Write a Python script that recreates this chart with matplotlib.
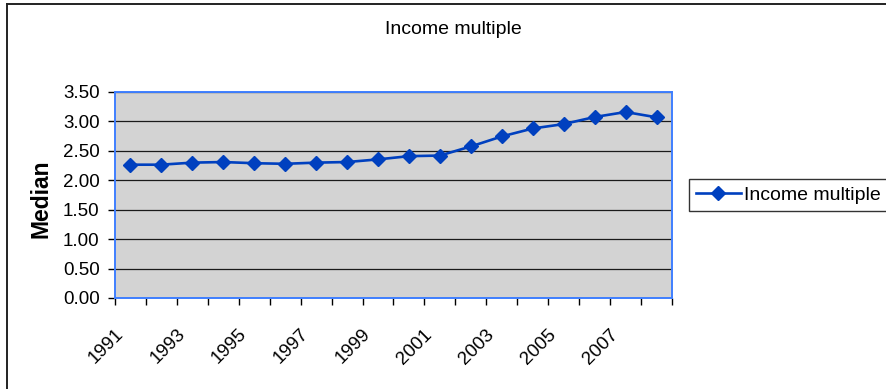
import matplotlib.pyplot as plt
from matplotlib.lines import Line2D
from matplotlib.ticker import FixedLocator
import matplotlib.transforms as mtransforms

plt.rcParams["font.family"] = ["Liberation Sans", "DejaVu Sans"]

years = list(range(1991, 2009))
income_multiple = [2.265, 2.265, 2.30, 2.31, 2.29, 2.28, 2.30, 2.31, 2.355,
                   2.41, 2.42, 2.575, 2.745, 2.88, 2.955, 3.075, 3.16, 3.07]
y_ticks = [0.0, 0.5, 1.0, 1.5, 2.0, 2.5, 3.0, 3.5]

line_color = "#0040BF"
frame_blue = "#3F7FFF"
fs = 13.5

fig = plt.figure(figsize=(8.87, 3.89), dpi=100)
ax = fig.add_axes([115 / 887, 91 / 389, 557 / 887, 206 / 389])
ax.set_facecolor("#D3D3D3")

x = list(range(len(years)))
ax.plot(x, income_multiple, color=line_color, linewidth=1.9,
        marker="D", markersize=7.5, markerfacecolor=line_color,
        markeredgecolor=line_color, label="Income multiple", zorder=3)

ax.set_xlim(-0.5, len(years) - 0.5)
ax.set_ylim(0, 3.5)

# y axis: gridlines every 0.5
ax.set_yticks(y_ticks)
ax.set_yticklabels([f"{v:.2f}" for v in y_ticks], fontsize=fs)
ax.yaxis.grid(True, color="#1a1a1a", linewidth=0.9)
ax.set_axisbelow(True)

# x axis: ticks between categories, labels on every other year
ax.xaxis.set_major_locator(FixedLocator([i - 0.5 for i in range(len(years) + 1)]))
ax.set_xticklabels([])
ax.set_xticks(x[::2], minor=True)
ax.set_xticklabels([str(y) for y in years[::2]], minor=True,
                   rotation=45, ha="right", va="top", fontsize=fs)
ax.tick_params(axis="x", which="minor", length=0, pad=20)
ax.tick_params(axis="both", which="major", direction="out", length=5,
               width=1, color="black", pad=6)
shift = mtransforms.ScaledTranslation(-4 / 100, 0, fig.dpi_scale_trans)
for lab in ax.xaxis.get_minorticklabels():
    lab.set_transform(lab.get_transform() + shift)

for side in ["left", "right", "top", "bottom"]:
    ax.spines[side].set_color(frame_blue)
    ax.spines[side].set_linewidth(1.4)

fig.text(453 / 887, 1 - 30 / 389, "Income multiple", ha="center", va="center",
         fontsize=14)
fig.text(41 / 887, 1 - 199 / 389, "Median", ha="center", va="center",
         rotation=90, fontsize=16.5, fontweight="bold")

leg = fig.legend(loc="center left", bbox_to_anchor=(689 / 887, 1 - 195 / 389),
                 fontsize=14, frameon=True, fancybox=False, borderaxespad=0,
                 handlelength=2.3, handletextpad=0.2, borderpad=0.35)
leg.get_frame().set_edgecolor("black")
leg.get_frame().set_linewidth(1.0)

# outer chart border (top and left edges)
fig.add_artist(Line2D([7 / 887, 1], [1 - 4 / 389, 1 - 4 / 389],
                      transform=fig.transFigure, color="#222222", linewidth=1.4))
fig.add_artist(Line2D([7 / 887, 7 / 887], [0, 1 - 4 / 389],
                      transform=fig.transFigure, color="#222222", linewidth=1.4))

fig.savefig("out.png", dpi=100)
